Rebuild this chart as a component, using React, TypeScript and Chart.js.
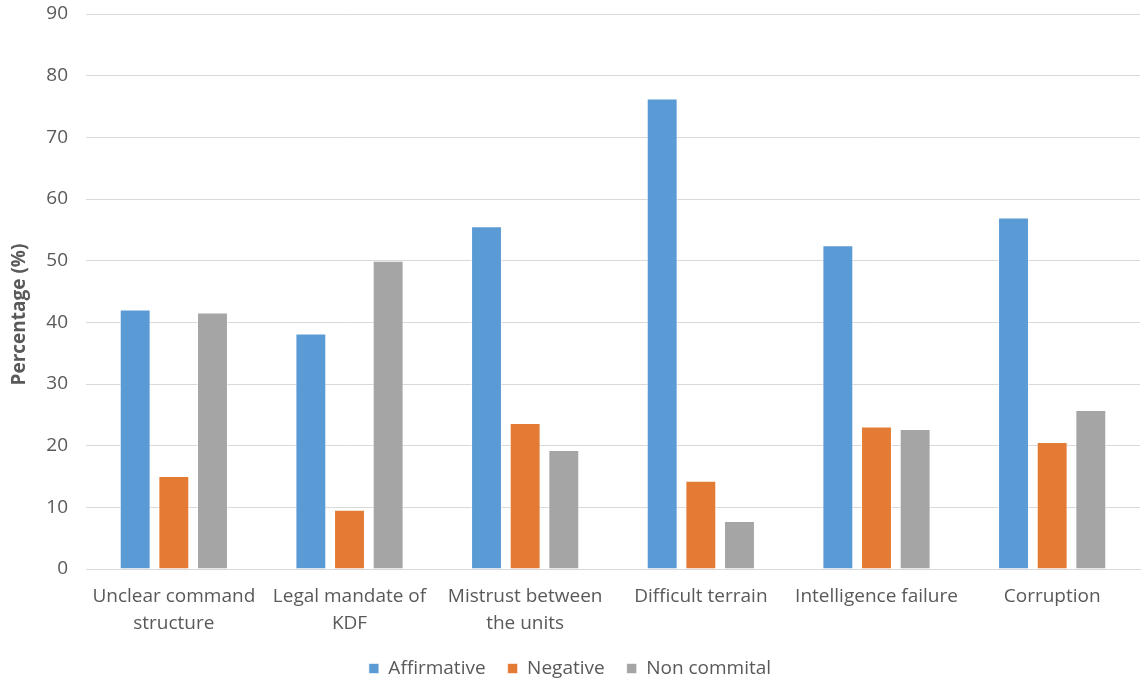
import React, { useEffect, useRef } from "react";
import { Chart, registerables } from "chart.js";

Chart.register(...registerables);

const categories: string[][] = [
  ["Unclear command", "structure"],
  ["Legal mandate of", "KDF"],
  ["Mistrust between", "the units"],
  ["Difficult terrain"],
  ["Intelligence failure"],
  ["Corruption"],
];

const affirmative = [42.1, 38.2, 55.6, 76.3, 52.5, 57.0];
const negative = [15.1, 9.6, 23.7, 14.3, 23.1, 20.6];
const nonCommital = [41.6, 50.0, 19.3, 7.8, 22.7, 25.8];

const seriesNames = ["Affirmative", "Negative", "Non commital"];
const seriesColors = ["#5B9BD5", "#E47B35", "#A5A5A5"];

const yTitle = "Percentage (%)";
const yMax = 90;
const yStep = 10;

const FONT = "'Open Sans', 'Noto Sans', sans-serif";
const TEXT = "#595959";

// Vertical axis title, drawn a little below the middle of the plot area
const yTitlePlugin = {
  id: "yTitle",
  afterDraw(chart: any) {
    const { ctx, chartArea } = chart;
    const cy = (chartArea.top + chartArea.bottom) / 2 + 23;
    ctx.save();
    ctx.translate(20, cy);
    ctx.rotate(-Math.PI / 2);
    ctx.font = `bold 19px ${FONT}`;
    ctx.fillStyle = TEXT;
    ctx.textAlign = "center";
    ctx.textBaseline = "middle";
    ctx.fillText(yTitle, 0, 0);
    ctx.restore();
  },
};

export default function App() {
  const canvasRef = useRef<HTMLCanvasElement | null>(null);

  useEffect(() => {
    if (!canvasRef.current) return;
    const values = [affirmative, negative, nonCommital];
    const chart = new Chart(canvasRef.current, {
      type: "bar",
      data: {
        labels: categories,
        datasets: values.map((v, i) => ({
          label: seriesNames[i],
          data: v,
          backgroundColor: seriesColors[i],
          borderColor: "rgba(255,255,255,0.6)",
          borderWidth: 1,
          categoryPercentage: 0.66,
          barPercentage: 0.8,
        })),
      },
      plugins: [yTitlePlugin],
      options: {
        animation: false,
        responsive: true,
        maintainAspectRatio: false,
        layout: { padding: { top: 14, right: 6, bottom: -7, left: 0 } },
        plugins: {
          tooltip: { enabled: false },
          legend: {
            position: "bottom",
            labels: {
              boxWidth: 10,
              boxHeight: 10,
              padding: 22,
              color: TEXT,
              font: { family: FONT, size: 19 },
            },
          },
        },
        scales: {
          x: {
            grid: { display: false },
            border: { display: true, color: "#D9D9D9", width: 1 },
            ticks: {
              color: TEXT,
              font: { family: FONT, size: 19, lineHeight: 1.42 },
              maxRotation: 0,
              minRotation: 0,
              autoSkip: false,
              padding: 6,
            },
            afterFit: (scale: any) => {
              scale.height -= 6;
            },
          },
          y: {
            min: 0,
            max: yMax,
            grid: { color: "#D9D9D9", lineWidth: 1, drawTicks: false },
            border: { display: false },
            ticks: {
              stepSize: yStep,
              color: TEXT,
              font: { family: FONT, size: 19 },
              padding: 18,
            },
            afterFit: (scale: any) => {
              scale.width = 86;
              scale.paddingTop = 0;
            },
          },
        },
      },
    });
    return () => chart.destroy();
  }, []);

  return (
    <div style={{ position: "fixed", left: 0, top: 0, width: 1146, height: 681, background: "#fff" }}>
      <canvas ref={canvasRef} />
    </div>
  );
}
